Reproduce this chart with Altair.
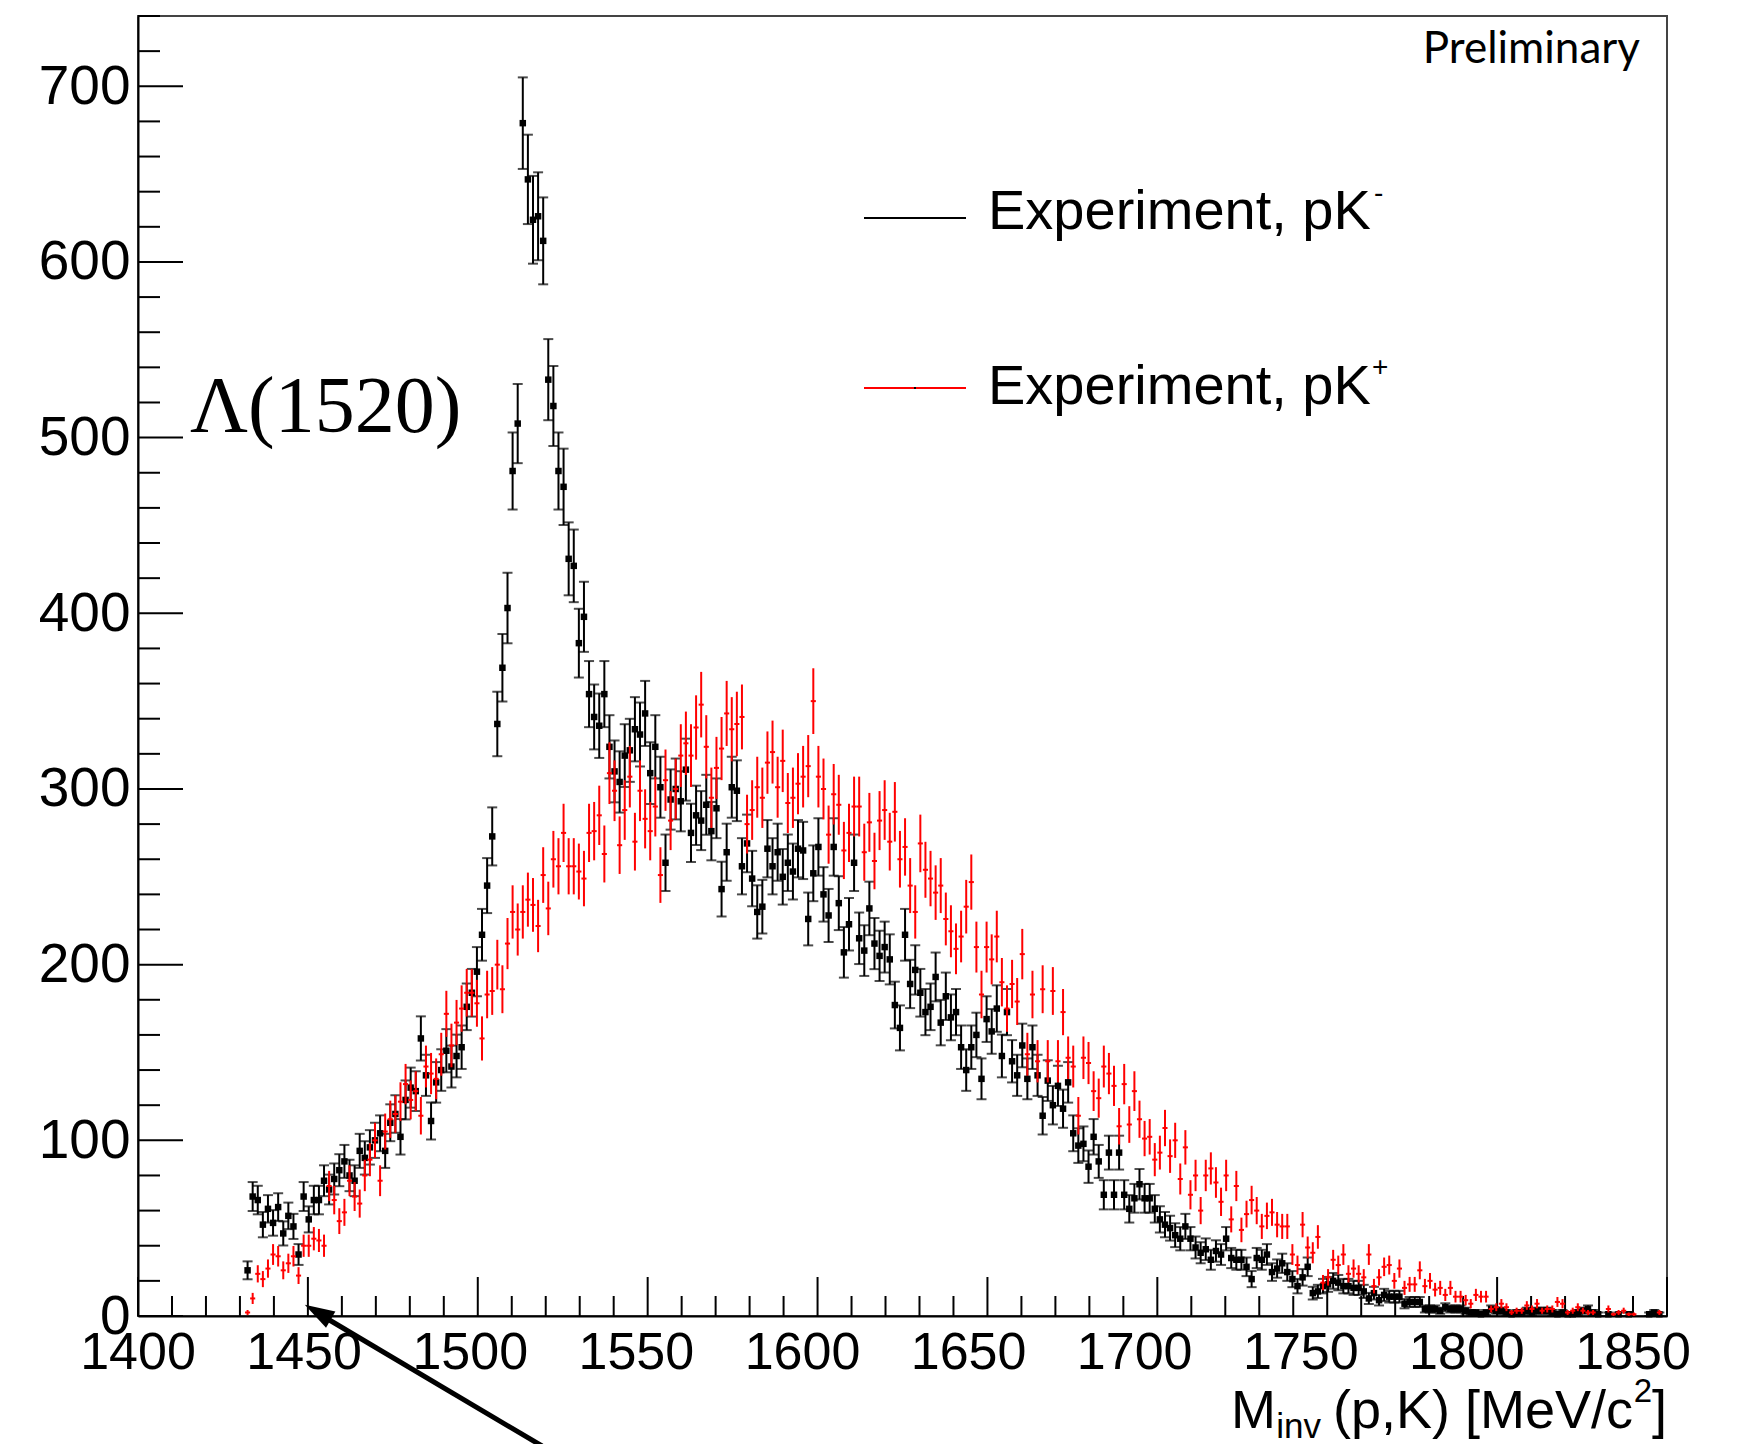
import math
import altair as alt
import pandas as pd

# ---------------- data ----------------
BIN_START = 1400.0   # MeV/c^2, lower edge of the histogram
BIN_WIDTH = 1.5      # MeV/c^2
FIRST_BIN = 21       # index of the first listed bin (centre 1432.25)

# Experiment, pK-  (counts per bin, bins 21..299)
pk_minus = [
    26, 68, 66, 52, 61, 53, 62, 47, 57, 51,
    35, 68, 55, 66, 66, 77, 72, 78, 83, 88,
    80, 77, 94, 90, 96, 100, 104, 94, 110, 115,
    102, 123, 130, 128, 158, 137, 111, 133, 140, 151,
    142, 148, 153, 176, 184, 196, 217, 245, 273, 337,
    369, 403, 481, 508, 679, 647, 624, 626, 612, 533,
    518, 481, 472, 431, 427, 383, 398, 354, 341, 336,
    354, 324, 310, 304, 319, 322, 334, 331, 343, 309,
    324, 301, 258, 294, 300, 293, 311, 275, 285, 282,
    291, 276, 289, 243, 264, 301, 299, 256, 269, 249,
    230, 233, 266, 256, 264, 250, 258, 253, 266, 265,
    226, 252, 267, 240, 228, 267, 235, 207, 223, 258,
    215, 208, 232, 212, 205, 210, 203, 177, 164, 217,
    189, 197, 184, 173, 176, 193, 167, 182, 170, 173,
    153, 140, 153, 160, 135, 169, 162, 175, 148, 173,
    145, 137, 154, 135, 153, 137, 114, 134, 120, 131,
    118, 133, 104, 97, 98, 85, 102, 88, 69, 93,
    69, 93, 69, 61, 67, 75, 67, 67, 61, 55,
    52, 50, 46, 44, 51, 44, 39, 36, 38, 32,
    37, 35, 44, 33, 32, 32, 28, 21, 33, 32,
    35, 25, 27, 30, 25, 21, 17, 22, 28, 13,
    14, 17, 18, 20, 19, 17, 17, 16, 16, 14,
    10, 13, 9, 12, 11, 11, 11, 7, 8, 8,
    8, 4, 4, 4, 3, 5, 4, 4, 4, 3,
    2, 2, 1, 2, 4, 3, 3, 2, 1, 2,
    2, 3, 2, 3, 3, 3, 2, 1, 2, 1,
    1, 2, 3, 4, 2, 1, 0, 1, 0, 1,
    0, 1, 0, 0, 0, 1, 2, 1, 0,
]

# Experiment, pK+  (counts per bin, bins 21..299)
pk_plus = [
    2, 10, 24, 21, 27, 35, 34, 26, 30, 34,
    23, 40, 40, 44, 43, 40, 74, 66, 54, 59,
    77, 68, 64, 80, 89, 100, 77, 105, 112, 115,
    122, 132, 123, 128, 114, 142, 138, 135, 149, 172,
    154, 167, 175, 184, 184, 178, 158, 183, 185, 200,
    186, 212, 230, 220, 230, 237, 234, 222, 251, 232,
    260, 256, 275, 256, 256, 253, 249, 275, 276, 285,
    263, 309, 299, 268, 288, 307, 270, 299, 283, 276,
    290, 251, 305, 282, 300, 319, 326, 319, 335, 348,
    324, 295, 312, 323, 343, 334, 337, 341, 280, 288,
    301, 295, 315, 321, 301, 316, 292, 295, 303, 307,
    313, 350, 307, 300, 274, 297, 291, 265, 275, 290,
    290, 264, 281, 259, 282, 288, 270, 287, 260, 267,
    245, 230, 269, 254, 249, 241, 245, 226, 219, 209,
    216, 233, 247, 210, 183, 210, 203, 216, 190, 175,
    189, 179, 206, 149, 183, 145, 186, 145, 185, 145,
    173, 147, 142, 114, 147, 144, 128, 124, 142, 138,
    131, 108, 132, 109, 128, 112, 101, 102, 89, 93,
    107, 91, 100, 78, 96, 69, 80, 60, 80, 84,
    76, 65, 80, 55, 74, 49, 58, 66, 60, 51,
    57, 59, 52, 51, 51, 35, 29, 52, 39, 36,
    45, 19, 22, 32, 29, 35, 24, 27, 24, 22,
    35, 17, 22, 28, 29, 20, 27, 16, 18, 18,
    26, 17, 20, 15, 16, 12, 16, 11, 11, 9,
    7, 12, 11, 11, 4, 5, 7, 5, 2, 3,
    3, 6, 4, 7, 3, 4, 4, 8, 7, 2,
    3, 5, 3, 2, 2, 0, 0, 4, 1, 2,
    3, 1, 1, 0, 0, 0, 0, 2, 0,
]

x_major = [1400, 1450, 1500, 1550, 1600, 1650, 1700, 1750, 1800, 1850]
x_minor = [t for t in range(1400, 1851, 10) if t % 50]
y_major = [0, 100, 200, 300, 400, 500, 600, 700]
y_minor = [t for t in range(0, 741, 20) if t % 100]

X_DOMAIN = [1400, 1850]
Y_DOMAIN = [0, 740]

# ---------------- table ----------------
rows = []
for name, vals in (("minus", pk_minus), ("plus", pk_plus)):
    for i, n in enumerate(vals):
        if n <= 0:
            continue
        c = BIN_START + BIN_WIDTH * (FIRST_BIN + i + 0.5)
        e = math.sqrt(n)  # Poisson error of the counts
        rows.append(dict(s=name, m=c, v=n, lo=max(n - e, 0), hi=n + e,
                         mlo=c - BIN_WIDTH / 2, mhi=c + BIN_WIDTH / 2))
df = pd.DataFrame(rows)

W, H = 1529, 1300
FONT = "Liberation Sans"

xs = alt.Scale(domain=X_DOMAIN, nice=False, zero=False)
ys = alt.Scale(domain=Y_DOMAIN, nice=False, zero=False)

xaxis = alt.Axis(values=x_major, labels=False, ticks=False, grid=False,
                 domainColor="black", domainWidth=2, title=None)
yaxis = alt.Axis(values=y_major, format="d", labelFont=FONT, labelFontSize=55,
                 labelColor="black", labelPadding=8, ticks=False, grid=False,
                 domainColor="black", domainWidth=2, title=None,
                 labelFlush=False, labelOverlap=False)


def X(f):
    return alt.X(f, type="quantitative", scale=xs, axis=xaxis)


def Y(f):
    return alt.Y(f, type="quantitative", scale=ys, axis=yaxis)


base = alt.Chart(df)
black = base.transform_filter(alt.datum.s == "minus")
red = base.transform_filter(alt.datum.s == "plus")

# --- inward axis ticks ---
xmaj = alt.Chart(pd.DataFrame({"t": x_major})).mark_rule(color="black", strokeWidth=2).encode(
    x=X("t"), y=alt.value(H), y2=alt.value(H - 39))
xmin = alt.Chart(pd.DataFrame({"t": x_minor})).mark_rule(color="black", strokeWidth=2).encode(
    x=X("t"), y=alt.value(H), y2=alt.value(H - 20))
ymaj = alt.Chart(pd.DataFrame({"t": y_major})).mark_rule(color="black", strokeWidth=2).encode(
    y=Y("t"), x=alt.value(0), x2=alt.value(45))
ymin = alt.Chart(pd.DataFrame({"t": y_minor})).mark_rule(color="black", strokeWidth=2).encode(
    y=Y("t"), x=alt.value(0), x2=alt.value(22))

# x tick labels (in the reference they drift slightly left of their ticks)
xlab = alt.Chart(pd.DataFrame({"t": x_major})).transform_calculate(
    pos="datum.t - (datum.t - 1400) * 0.0222"
).mark_text(font=FONT, fontSize=52, color="black", align="center",
            baseline="alphabetic").encode(
    x=X("pos"), y=alt.value(H + 53), text=alt.Text("t:Q", format="d"))

# --- pK- (black, with caps and square markers) ---
b_v = black.mark_rule(color="black", strokeWidth=2).encode(x=X("m"), y=Y("lo"), y2="hi")
b_h = black.mark_rule(color="black", strokeWidth=2).encode(x=X("mlo"), x2="mhi", y=Y("v"))
b_c1 = black.mark_tick(color="black", orient="horizontal", size=10, thickness=2).encode(x=X("m"), y=Y("lo"))
b_c2 = black.mark_tick(color="black", orient="horizontal", size=10, thickness=2).encode(x=X("m"), y=Y("hi"))
b_m = black.mark_square(color="black", size=42, opacity=1).encode(x=X("m"), y=Y("v"))

# --- pK+ (red) ---
r_v = red.mark_rule(color="#ff0000", strokeWidth=2).encode(x=X("m"), y=Y("lo"), y2="hi")
r_h = red.mark_rule(color="#ff0000", strokeWidth=2).encode(x=X("mlo"), x2="mhi", y=Y("v"))

one = pd.DataFrame({"k": [0]})


def txt(s, x, y, size, font=FONT, align="left", color="black"):
    return alt.Chart(one).mark_text(text=s, font=font, fontSize=size, align=align,
                                    baseline="alphabetic", color=color).encode(
        x=alt.value(x), y=alt.value(y))


# legend
leg_b = alt.Chart(one).mark_rule(color="black", strokeWidth=2).encode(
    x=alt.value(726), x2=alt.value(828), y=alt.value(202))
leg_r = alt.Chart(one).mark_rule(color="#ff0000", strokeWidth=2).encode(
    x=alt.value(726), x2=alt.value(828), y=alt.value(372))
leg_dot = alt.Chart(one).mark_square(color="black", size=4, opacity=1).encode(
    x=alt.value(777), y=alt.value(372))
leg_t1 = txt("Experiment, pK", 850, 213, 56)
leg_s1 = txt("-", 1236, 186, 28)
leg_t2 = txt("Experiment, pK", 850, 388, 56)
leg_s2 = txt("+", 1234, 360, 28)

prelim = txt("Preliminary", W - 27, 47, 44, font="Lato", align="right")
lam = txt("Λ(1520)", 52, 416, 80, font="Liberation Serif")

# x axis title  M_inv (p,K) [MeV/c^2]
t_br = txt("]", W, H + 112, 54, align="right")
t_sq = txt("2", W - 15, H + 86, 33, align="right")
t_mid = txt("(p,K) [MeV/c", W - 34, H + 112, 54, align="right")
t_sub = txt("inv", W - 346, H + 122, 35, align="right")
t_m = txt("M", W - 391, H + 112, 54, align="right")

# arrow
arrow_line = alt.Chart(one).mark_rule(color="black", strokeWidth=5).encode(
    x=alt.value(404), y=alt.value(1430), x2=alt.value(188), y2=alt.value(1302))
arrow_head = alt.Chart(one).mark_point(
    shape="M0,-1 L0.5,0.6 L-0.5,0.6 Z", filled=True, color="black", opacity=1,
    size=1400, angle=300).encode(x=alt.value(183), y=alt.value(1298))

chart = alt.layer(
    xmaj, xmin, ymaj, ymin, xlab,
    b_v, b_h, b_c1, b_c2, b_m,
    r_v, r_h,
    leg_b, leg_r, leg_dot, leg_t1, leg_s1, leg_t2, leg_s2,
    prelim, lam,
    t_br, t_sq, t_mid, t_sub, t_m,
    arrow_line, arrow_head,
).properties(
    width=W, height=H,
    autosize=alt.AutoSizeParams(type="none"),
    padding={"left": 138, "top": 16, "right": 70, "bottom": 128},
    background="white",
).configure_view(stroke="#444444", strokeWidth=2)

chart.save("out.html", embed_options={"renderer": "svg", "actions": False})
